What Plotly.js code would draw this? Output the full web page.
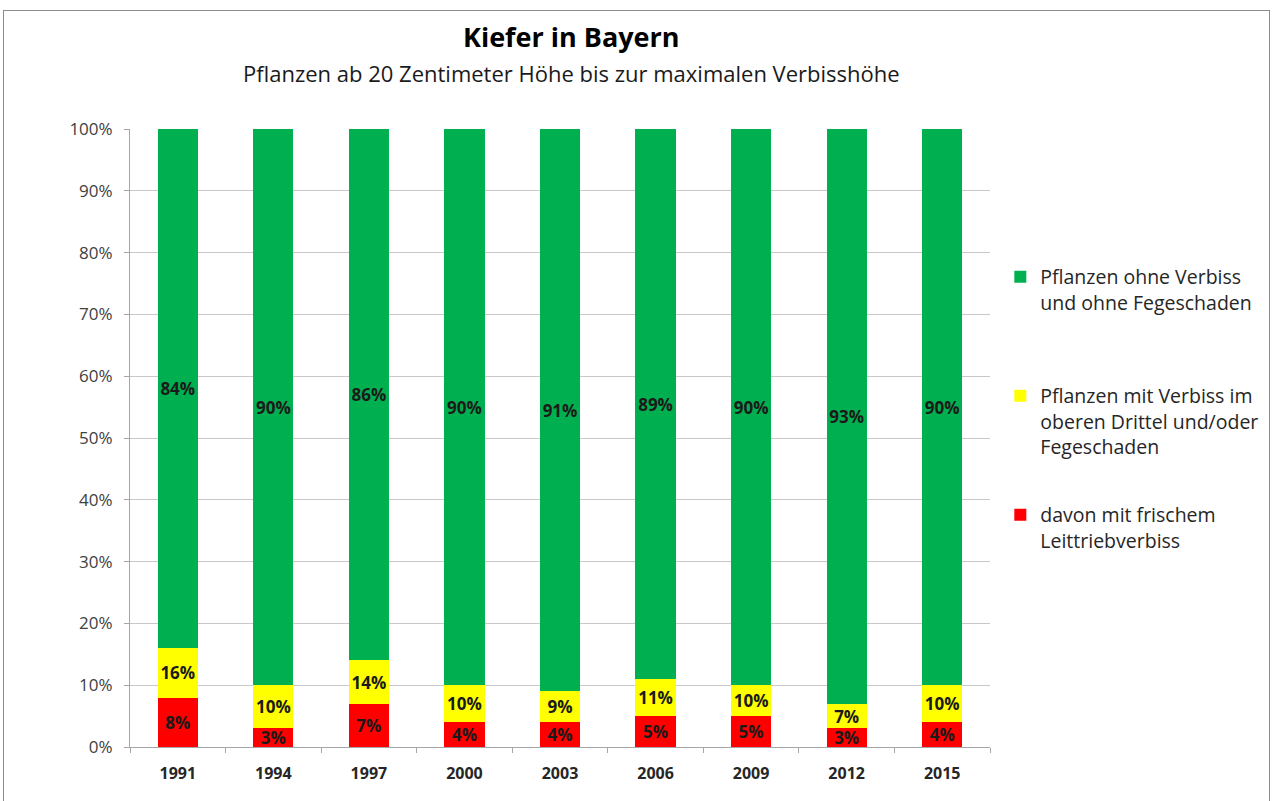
<!DOCTYPE html>
<html><head><meta charset="utf-8">
<script src="https://cdn.plot.ly/plotly-3.0.1.min.js"></script>
<style>
html,body{margin:0;padding:0;background:#fff;}
#wrap{position:relative;width:1276px;height:801px;}
#chart{width:1276px;height:801px;}
#frame{position:absolute;left:3px;top:10px;width:1265px;height:800px;border:1px solid #8c8c8c;border-bottom:none;pointer-events:none;}
</style></head>
<body>
<div id="wrap"><div id="chart"></div><div id="frame"></div></div>
<script>
const years = ['1991','1994','1997','2000','2003','2006','2009','2012','2015'];
const redVals = [8,3,7,4,4,5,5,3,4];
const yellowVals = [16,10,14,10,9,11,10,7,10];
const greenVals = [84,90,86,90,91,89,90,93,90];
const names = ['davon mit frischem<br>Leittriebverbiss',
               'Pflanzen mit Verbiss im<br>oberen Drittel und/oder<br>Fegeschaden',
               'Pflanzen ohne Verbiss<br>und ohne Fegeschaden<br> '];
const titleText = 'Kiefer in Bayern';
const subtitleText = 'Pflanzen ab 20 Zentimeter Höhe bis zur maximalen Verbisshöhe';

const FONT = '"Open Sans", "Noto Sans", sans-serif';
const txtFont = {family: FONT, size: 17, color: '#1a1a1a', weight: 'bold'};

function pct(a){return a.map(v => v + '%');}

const yellowPart = yellowVals.map((v,i) => v - redVals[i]);

const common = {
  type: 'bar', x: years, textposition: 'inside', insidetextanchor: 'middle',
  constraintext: 'none', textfont: txtFont, hoverinfo: 'skip', textangle: 0
};

const traces = [
  Object.assign({}, common, {name: names[0], y: redVals, text: pct(redVals),
    marker: {color: '#FF0000'}, legendgroup: 'r', legendrank: 3}),
  Object.assign({}, common, {name: names[1], y: yellowPart, text: pct(yellowVals),
    marker: {color: '#FFFF00'}, legendgroup: 'y', legendrank: 2}),
  Object.assign({}, common, {name: names[2], y: greenVals, text: pct(greenVals),
    marker: {color: '#00B050'}, legendgroup: 'g', legendrank: 1})
];

const layout = {
  width: 1276, height: 801,
  margin: {l: 130, r: 286, t: 129, b: 54},
  paper_bgcolor: '#ffffff', plot_bgcolor: '#ffffff',
  barmode: 'stack', bargap: 0.58,
  font: {family: FONT, color: '#404040'},
  showlegend: true,
  legend: {x: 1.012, xanchor: 'left', y: 0.792, yanchor: 'top',
    font: {family: FONT, size: 19.5, color: '#262626'},
    traceorder: 'grouped', tracegroupgap: 40, itemwidth: 30, valign: 'top'},
  xaxis: {type: 'category', tickson: 'boundaries', ticks: 'outside', ticklen: 5,
    tickcolor: '#a6a6a6', showline: true, linecolor: '#a6a6a6', showgrid: false,
    ticklabelstandoff: 12,
    tickfont: {family: FONT, size: 16, color: '#262626', weight: 'bold'}},
  yaxis: {range: [0, 100], dtick: 10, ticksuffix: '%', ticks: 'outside', ticklen: 5,
    tickcolor: '#a6a6a6', showline: true, linecolor: '#a6a6a6',
    gridcolor: '#c8c8c8', gridwidth: 1, zeroline: false,
    ticklabelstandoff: 8,
    tickfont: {family: FONT, size: 17, color: '#404040'}},
  annotations: [
    {text: '<b>' + titleText + '</b>', xref: 'paper', yref: 'paper', x: 0.513, y: 1.149,
     xanchor: 'center', yanchor: 'middle', showarrow: false,
     font: {family: FONT, size: 27, color: '#000'}},
    {text: subtitleText, xref: 'paper', yref: 'paper', x: 0.513, y: 1.0906,
     xanchor: 'center', yanchor: 'middle', showarrow: false,
     font: {family: FONT, size: 22, color: '#1a1a1a'}}
  ]
};

Plotly.newPlot('chart', traces, layout, {displayModeBar: false, staticPlot: true});
</script>
</body></html>
